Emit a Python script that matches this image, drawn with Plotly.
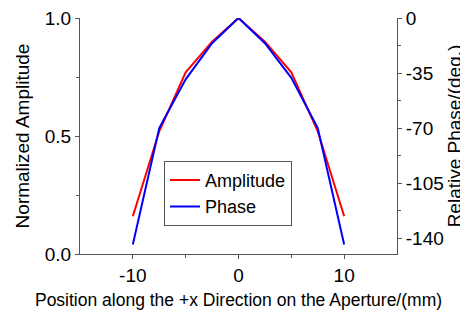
import plotly.graph_objects as go

position = [-10, -7.5, -5, -2.5, 0, 2.5, 5, 7.5, 10]
amplitude = [0.16, 0.52, 0.77, 0.90, 1.0, 0.90, 0.77, 0.52, 0.16]
phase = [-144, -70, -39, -16, 0, -16, -38, -70, -144]

x_ticks = [-10, 0, 10]
x_ticktext = ["-10", "0", "10"]
amp_ticks = [0, 0.5, 1.0]
amp_ticktext = ["0.0", "0.5", "1.0"]
phase_ticks = [0, -35, -70, -105, -140]
phase_ticktext = ["0", "-35", "-70", "-105", "-140"]

font_family = "Liberation Sans, Arial, sans-serif"
axis_color = "#555"

fig = go.Figure()
fig.add_trace(go.Scatter(x=position, y=amplitude, mode="lines", name="Amplitude",
                         line=dict(color="#ff0000", width=2)))
fig.add_trace(go.Scatter(x=position, y=phase, mode="lines", name="Phase", yaxis="y2",
                         line=dict(color="#0000ff", width=2)))

# page body has an 8px margin, so the figure is 8px smaller and left/top margins shifted
fig.update_layout(
    width=460, height=308,
    margin=dict(l=72, r=71, t=10, b=62),
    paper_bgcolor="white", plot_bgcolor="white",
    font=dict(family=font_family, size=19, color="black"),
    showlegend=True,
    legend=dict(x=0.265, y=0.395, xanchor="left", yanchor="top",
                bordercolor="#555", borderwidth=1, bgcolor="white",
                font=dict(size=18), tracegroupgap=0, itemwidth=30),
    xaxis=dict(range=[-15, 15], tickvals=x_ticks, ticktext=x_ticktext, showgrid=False,
               zeroline=False, automargin=False, ticklabeloverflow="allow",
               showline=True, linecolor=axis_color, linewidth=1, ticks="outside",
               ticklen=4, tickcolor=axis_color,
               minor=dict(tickvals=[-5, 5], ticks="outside", ticklen=3, tickcolor=axis_color),
               title=dict(text="Position along the +x Direction on the Aperture/(mm)",
                          font=dict(size=17.5), standoff=8)),
    yaxis=dict(range=[0, 1], tickvals=amp_ticks, ticktext=amp_ticktext,
               automargin=False, ticklabeloverflow="allow",
               showgrid=False, zeroline=False, showline=True, linecolor=axis_color,
               linewidth=1, ticks="outside", ticklen=4, tickcolor=axis_color,
               minor=dict(tickvals=[0.25, 0.75], ticks="outside", ticklen=3, tickcolor=axis_color),
               title=dict(text="Normalized Amplitude", font=dict(size=19), standoff=10)),
    yaxis2=dict(range=[-150, 0], overlaying="y", side="right", tickvals=phase_ticks,
                ticktext=phase_ticktext,
                automargin=False, ticklabeloverflow="allow",
                showgrid=False, zeroline=False, showline=True, linecolor=axis_color,
                linewidth=1, ticks="outside", ticklen=4, tickcolor=axis_color,
                minor=dict(tickvals=[-17.5, -52.5, -87.5, -122.5], ticks="outside", ticklen=3,
                           tickcolor=axis_color),
                title=dict(text="Relative Phase/(deg.)", font=dict(size=19), standoff=0)),
)

fig.write_html("out.html")
